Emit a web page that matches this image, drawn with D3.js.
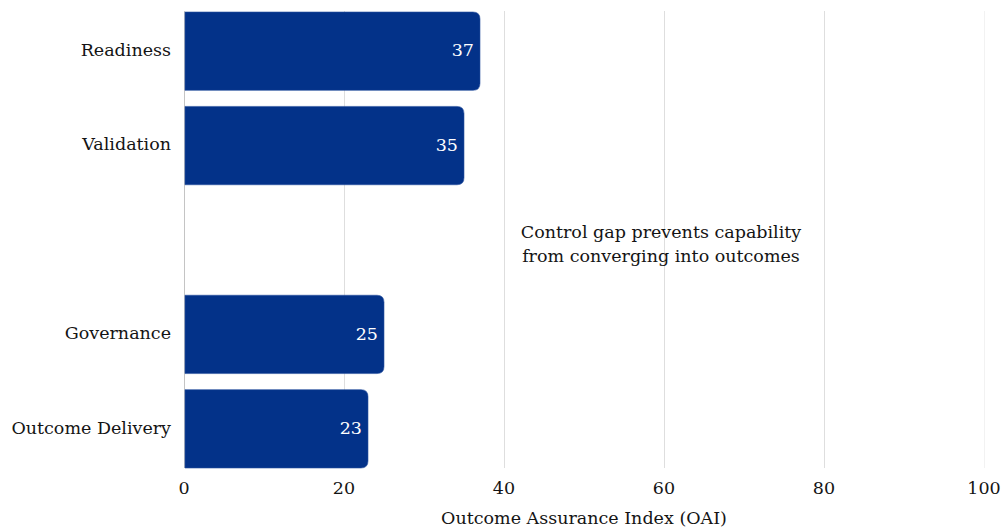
<!DOCTYPE html>
<html><head><meta charset="utf-8">
<script src="https://cdn.jsdelivr.net/npm/d3@7"></script>
<style>
body{margin:0;background:#fff;}
text{font-family:"DejaVu Serif",serif;fill:#141414;}
</style></head>
<body><svg id="c" width="1003" height="527"></svg>
<script>
const categories = ["Readiness","Validation","","Governance","Outcome Delivery"];
const barCategories = ["Readiness","Validation","Governance","Outcome Delivery"];
const values = [37,35,25,23];
const xTicks = [0,20,40,60,80,100];
const xTitle = "Outcome Assurance Index (OAI)";
const annotation = ["Control gap prevents capability","from converging into outcomes"];

const svg = d3.select("#c");
const m = {l:184, r:984, t:11, b:468};
const x = d3.scaleLinear().domain([0,100]).range([m.l,m.r]);
const y = d3.scaleBand().domain(categories).range([m.t+1,m.b]).paddingInner(0.17).paddingOuter(0);
const fs = "17.5px";

// grid
svg.append("g").selectAll("line").data(xTicks.filter(d=>d>0)).join("line")
  .attr("x1",d=>x(d)+0.5).attr("x2",d=>x(d)+0.5).attr("y1",m.t).attr("y2",m.b)
  .attr("stroke",d=>d===100?"#f2f2f2":"#dedede").attr("stroke-width",1);
svg.append("line").attr("x1",x(0)+0.5).attr("x2",x(0)+0.5).attr("y1",m.t).attr("y2",m.b)
  .attr("stroke","#c4c4c4");

// bars with right rounded corners
const r = 7;
function barPath(x0,x1,y0,h){
  return `M${x0},${y0}H${x1-r}Q${x1},${y0} ${x1},${y0+r}V${y0+h-r}Q${x1},${y0+h} ${x1-r},${y0+h}H${x0}Z`;
}
const data = barCategories.map((c,i)=>({c,v:values[i]}));
svg.append("g").selectAll("path").data(data).join("path")
  .attr("d",d=>barPath(x(0)+1,x(d.v),y(d.c),y.bandwidth()))
  .attr("fill","#033289").attr("stroke","#2a52a0").attr("stroke-width",0.6);

svg.append("g").selectAll("text").data(data).join("text")
  .attr("x",d=>x(d.v)-6).attr("y",d=>y(d.c)+y.bandwidth()/2)
  .attr("dy","0.3em").attr("text-anchor","end")
  .style("fill","#ffffff").style("font-size",fs).text(d=>d.v);

// y labels
svg.append("g").selectAll("text").data(barCategories).join("text")
  .attr("x",m.l-13).attr("y",d=>y(d)+y.bandwidth()/2).attr("dy","0.28em")
  .attr("text-anchor","end").style("font-size",fs).text(d=>d);

// x tick labels
svg.append("g").selectAll("text").data(xTicks).join("text")
  .attr("x",d=>x(d)).attr("y",494).attr("text-anchor","middle")
  .style("font-size",fs).text(d=>d);

svg.append("text").attr("x",(m.l+m.r)/2).attr("y",524).attr("text-anchor","middle")
  .style("font-size",fs).text(xTitle);

svg.append("g").selectAll("text").data(annotation).join("text")
  .attr("x",661).attr("y",(d,i)=>238+i*24).attr("text-anchor","middle")
  .style("font-size",fs).text(d=>d);
</script></body></html>
